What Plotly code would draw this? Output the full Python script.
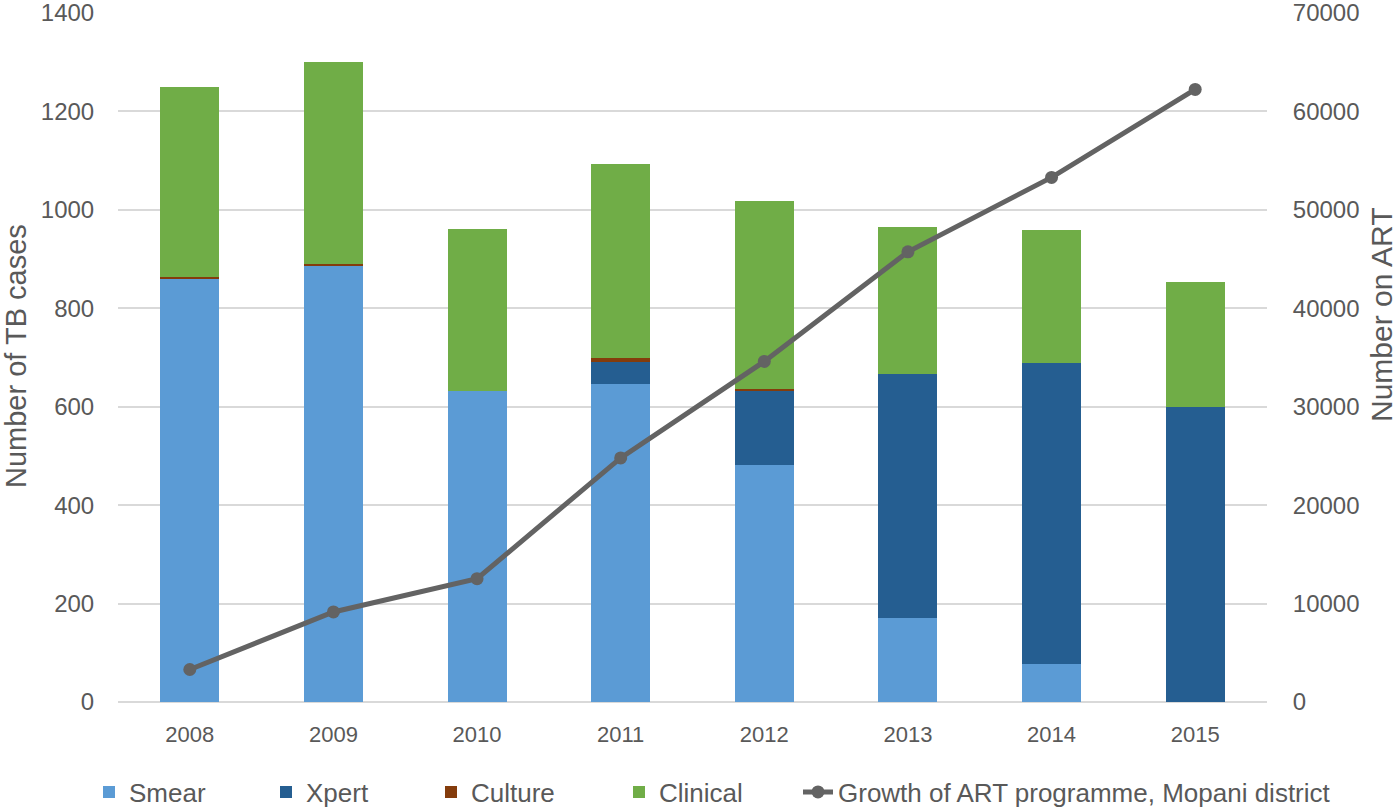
import plotly.graph_objects as go

years = ["2008", "2009", "2010", "2011", "2012", "2013", "2014", "2015"]
smear = [860, 886, 632, 646, 482, 170, 77, 0]
xpert = [0, 0, 0, 45, 149, 497, 612, 600]
culture = [4, 5, 0, 8, 5, 0, 0, 0]
clinical = [386, 409, 330, 395, 383, 298, 271, 253]
art = [3300, 9150, 12530, 24800, 34600, 45740, 53300, 62240]

left_title = "Number of TB cases"
right_title = "Number on ART"

font_family = "Liberation Sans, Arial, sans-serif"
grey = "#595959"

W, H = 1400, 808
ml, mr, mt, mb = 118, 133, 13, 106
pw, ph = W - ml - mr, H - mt - mb

fig = go.Figure()
fig.add_trace(go.Bar(x=years, y=smear, name="Smear", marker_color="#5B9BD5", legend="legend"))
fig.add_trace(go.Bar(x=years, y=xpert, name="Xpert", marker_color="#255E91", legend="legend2"))
fig.add_trace(go.Bar(x=years, y=culture, name="Culture", marker_color="#843C0C", legend="legend3"))
fig.add_trace(go.Bar(x=years, y=clinical, name="Clinical", marker_color="#70AD47", legend="legend4"))
fig.add_trace(go.Scatter(x=years, y=art, name="Growth of ART programme, Mopani district",
                         mode="lines+markers", yaxis="y2", legend="legend5",
                         line=dict(color="#636363", width=5),
                         marker=dict(color="#636363", size=13)))

fig.update_traces(selector=dict(type="bar"), marker_line_width=0)

legend_y = -(792 - (H - mb)) / ph


def leg(px):
    return dict(orientation="h", x=(px - ml) / pw, xanchor="left",
                y=legend_y, yanchor="middle", bgcolor="rgba(0,0,0,0)",
                font=dict(size=26, color=grey, family=font_family))


fig.update_layout(
    width=W, height=H,
    margin=dict(l=ml, r=mr, t=mt, b=mb, autoexpand=False),
    barmode="stack", bargap=0.59,
    plot_bgcolor="white", paper_bgcolor="white",
    font=dict(family=font_family, color=grey, size=18),
    xaxis=dict(showgrid=False, showline=False, ticks="outside", ticklen=13,
               tickcolor="rgba(0,0,0,0)", tickfont=dict(size=22, color=grey)),
    yaxis=dict(range=[0, 1400], dtick=200, gridcolor="#D9D9D9", gridwidth=1.5,
               zeroline=True, zerolinecolor="#D9D9D9", zerolinewidth=1.5,
               ticks="outside", ticklen=18, tickcolor="rgba(0,0,0,0)",
               ticklabeloverflow="allow",
               tickfont=dict(size=24, color=grey)),
    yaxis2=dict(range=[0, 70000], dtick=10000, overlaying="y", side="right",
                showgrid=False, zeroline=False, tickformat="d",
                ticks="outside", ticklen=20, tickcolor="rgba(0,0,0,0)",
                ticklabeloverflow="allow",
                tickfont=dict(size=24, color=grey)),
    legend=leg(89), legend2=leg(266), legend3=leg(431), legend4=leg(619), legend5=leg(798),
    showlegend=True,
    annotations=[
        dict(text=left_title, textangle=-90, xref="paper", yref="paper",
             x=(16 - ml) / pw, y=(H - mb - 356) / ph, xanchor="center", yanchor="middle",
             showarrow=False, font=dict(size=29, color=grey)),
        dict(text=right_title, textangle=-90, xref="paper", yref="paper",
             x=(1381 - ml) / pw, y=(H - mb - 315) / ph, xanchor="center", yanchor="middle",
             showarrow=False, font=dict(size=30, color=grey)),
    ],
)

fig.write_html("out.html", config={"displayModeBar": False},
               post_script="document.body.style.margin='0';document.body.style.overflow='hidden';")
